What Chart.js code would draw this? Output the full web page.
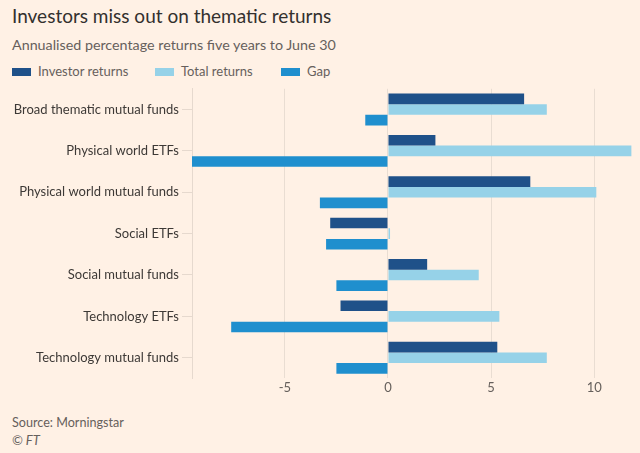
<!DOCTYPE html>
<html>
<head>
<meta charset="utf-8">
<script src="https://cdn.jsdelivr.net/npm/chart.js@4"></script>
<style>
  body { margin: 0; background: #FFF1E5; width: 640px; height: 453px; overflow: hidden; font-family: Lato, sans-serif; position: relative; }
  #title { position: absolute; left: 12px; top: 4px; font-size: 19px; color: #33302E; }
  #subtitle { position: absolute; left: 12px; top: 36px; font-size: 14.3px; color: #66605C; }
  #legend { position: absolute; left: 12px; top: 63px; font-size: 13px; color: #66605C; }
  #legend span.item { position: absolute; white-space: nowrap; }
  #legend i { display: inline-block; width: 19px; height: 8px; vertical-align: middle; margin-right: 7px; position: relative; top: -1px; }
  #chart { position: absolute; left: 0; top: 78px; }
  #source { position: absolute; left: 12px; top: 415px; font-size: 12.6px; color: #66605C; }
  #ft { position: absolute; left: 12px; top: 432px; font-size: 13px; color: #66605C; font-style: italic; }
</style>
</head>
<body>
<div id="title">Investors miss out on thematic returns</div>
<div id="subtitle">Annualised percentage returns five years to June 30</div>
<div id="legend"></div>
<canvas id="chart" width="640" height="320"></canvas>
<div id="source">Source: Morningstar</div>
<div id="ft">© FT</div>
<script>
const categories = [
  "Broad thematic mutual funds",
  "Physical world ETFs",
  "Physical world mutual funds",
  "Social ETFs",
  "Social mutual funds",
  "Technology ETFs",
  "Technology mutual funds"
];
const investorReturns = [6.6, 2.3, 6.9, -2.8, 1.9, -2.3, 5.3];
const totalReturns = [7.7, 11.8, 10.1, 0.1, 4.4, 5.4, 7.7];
const gap = [-1.1, -9.5, -3.3, -3.0, -2.5, -7.6, -2.5];
const xTicks = [-5, 0, 5, 10];

const seriesNames = ["Investor returns", "Total returns", "Gap"];
const seriesColors = ["#1F5189", "#96D2E8", "#1F8FCE"];
const legendX = [0, 143, 269];

const legend = document.getElementById("legend");
seriesNames.forEach((name, i) => {
  const s = document.createElement("span");
  s.className = "item";
  s.style.left = legendX[i] + "px";
  s.innerHTML = '<i style="background:' + seriesColors[i] + '"></i>' + name;
  legend.appendChild(s);
});

new Chart(document.getElementById("chart"), {
  type: "bar",
  data: {
    labels: categories,
    datasets: [investorReturns, totalReturns, gap].map((d, i) => ({
      label: seriesNames[i],
      data: d,
      backgroundColor: seriesColors[i],
      borderWidth: 0,
      barPercentage: 1,
      categoryPercentage: 0.77
    }))
  },
  options: {
    indexAxis: "y",
    responsive: false,
    animation: false,
    layout: { padding: { left: 0, right: 8, top: 0, bottom: 0 } },
    plugins: { legend: { display: false }, tooltip: { enabled: false } },
    scales: {
      x: {
        min: -9.5,
        max: 11.83,
        afterBuildTicks: axis => { axis.ticks = xTicks.map(v => ({ value: v })); },
        grid: { color: "#E9DDD2", drawTicks: false },
        border: { display: false },
        ticks: { color: "#66605C", font: { family: "Lato", size: 13 }, padding: 2 }
      },
      y: {
        afterFit: s => { s.width = 192; },
        grid: { offset: false, drawOnChartArea: false, tickLength: 10, color: "#E6D9CE" },
        border: { display: true, color: "#E6D9CE" },
        ticks: { color: "#3D3936", font: { family: "Lato", size: 13 }, padding: 3 }
      }
    }
  }
});
</script>
</body>
</html>
